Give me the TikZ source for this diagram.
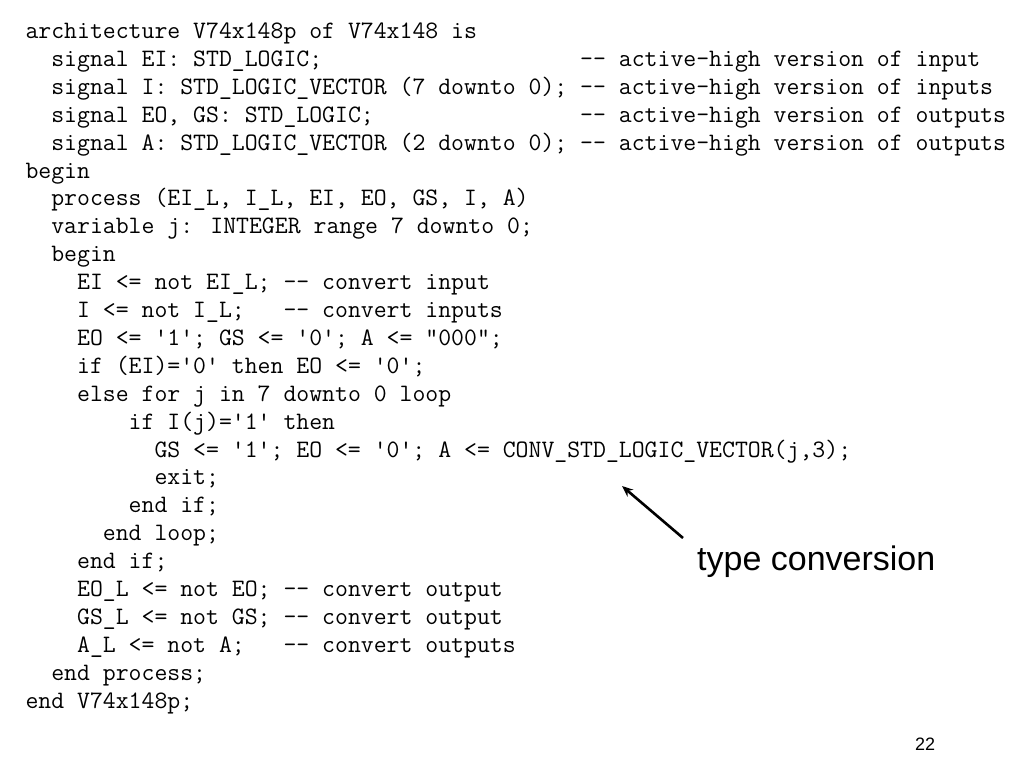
\documentclass[tikz,border=0pt]{standalone}
\usepackage{fontspec}
\newfontfamily\labelfont{Liberation Sans}
\usetikzlibrary{arrows.meta}
\newcommand{\q}{\textquotesingle}
\newcommand{\qq}{\textquotedbl}
\tikzset{
  code/.style={anchor=base west, inner sep=0pt, outer sep=0pt, text=black,
    font=\ttfamily\fontsize{25.05}{27.9}\selectfont},
  lbl/.style={anchor=base west, inner sep=0pt, text=black,
    font=\labelfont\fontsize{34}{40}\selectfont},
  pnum/.style={anchor=base west, inner sep=0pt, text=black,
    font=\labelfont\fontsize{18}{20}\selectfont},
  pointer/.style={draw=black, line width=2.6pt, -{Stealth[length=11pt,width=9pt]}}
}
\begin{document}
\begin{tikzpicture}[x=1pt,y=-1pt]
\useasboundingbox[fill=white] (0,0) rectangle (1024,768);
\def\xo{25.5}
\node[code] (l1)  at (\xo, 38.5+0*27.9) {architecture V74x148p of V74x148 is};
\node[code] (l2)  at (\xo, 38.5+1*27.9) {~~signal EI: STD\_LOGIC;~~~~~~~~~~~~~~~~~~~~-{}- active-high version of input};
\node[code] (l3)  at (\xo, 38.5+2*27.9) {~~signal I: STD\_LOGIC\_VECTOR (7 downto 0); -{}- active-high version of inputs};
\node[code] (l4)  at (\xo, 38.5+3*27.9) {~~signal EO, GS: STD\_LOGIC;~~~~~~~~~~~~~~~~-{}- active-high version of outputs};
\node[code] (l5)  at (\xo, 38.5+4*27.9) {~~signal A: STD\_LOGIC\_VECTOR (2 downto 0); -{}- active-high version of outputs};
\node[code] (l6)  at (\xo, 38.5+5*27.9) {begin};
\node[code] (l7)  at (\xo, 38.5+6*27.9) {~~process (EI\_L, I\_L, EI, EO, GS, I, A)};
\node[code] (l8)  at (\xo, 38.5+7*27.9) {~~variable j: INTEGER range 7 downto 0;};
\node[code] (l9)  at (\xo, 38.5+8*27.9) {~~begin};
\node[code] (l10) at (\xo, 38.5+9*27.9) {~~~~EI <= not EI\_L; -{}- convert input};
\node[code] (l11) at (\xo, 38.5+10*27.9) {~~~~I <= not I\_L;~~~-{}- convert inputs};
\node[code] (l12) at (\xo, 38.5+11*27.9) {~~~~EO <= \q1\q; GS <= \q0\q; A <= \qq000\qq;};
\node[code] (l13) at (\xo, 38.5+12*27.9) {~~~~if (EI)=\q0\q{} then EO <= \q0\q;};
\node[code] (l14) at (\xo, 38.5+13*27.9) {~~~~else for j in 7 downto 0 loop};
\node[code] (l15) at (\xo, 38.5+14*27.9) {~~~~~~~~if I(j)=\q1\q{} then};
\node[code] (l16) at (\xo, 38.5+15*27.9) {~~~~~~~~~~GS <= \q1\q; EO <= \q0\q; A <= CONV\_STD\_LOGIC\_VECTOR(j,3);};
\node[code] (l17) at (\xo, 38.5+16*27.9) {~~~~~~~~~~exit;};
\node[code] (l18) at (\xo, 38.5+17*27.9) {~~~~~~~~end if;};
\node[code] (l19) at (\xo, 38.5+18*27.9) {~~~~~~end loop;};
\node[code] (l20) at (\xo, 38.5+19*27.9) {~~~~end if;};
\node[code] (l21) at (\xo, 38.5+20*27.9) {~~~~EO\_L <= not EO; -{}- convert output};
\node[code] (l22) at (\xo, 38.5+21*27.9) {~~~~GS\_L <= not GS; -{}- convert output};
\node[code] (l23) at (\xo, 38.5+22*27.9) {~~~~A\_L <= not A;~~~-{}- convert outputs};
\node[code] (l24) at (\xo, 38.5+23*27.9) {~~end process;};
\node[code] (l25) at (\xo, 38.5+24*27.9) {end V74x148p;};
\node[lbl] (note) at (697, 570) {type conversion};
\coordinate (tail) at (683, 538);
\coordinate (tip) at (622, 486);
\draw[pointer] (tail) -- (tip);
\node[pnum] (page) at (915, 750) {22};
\end{tikzpicture}
\end{document}
